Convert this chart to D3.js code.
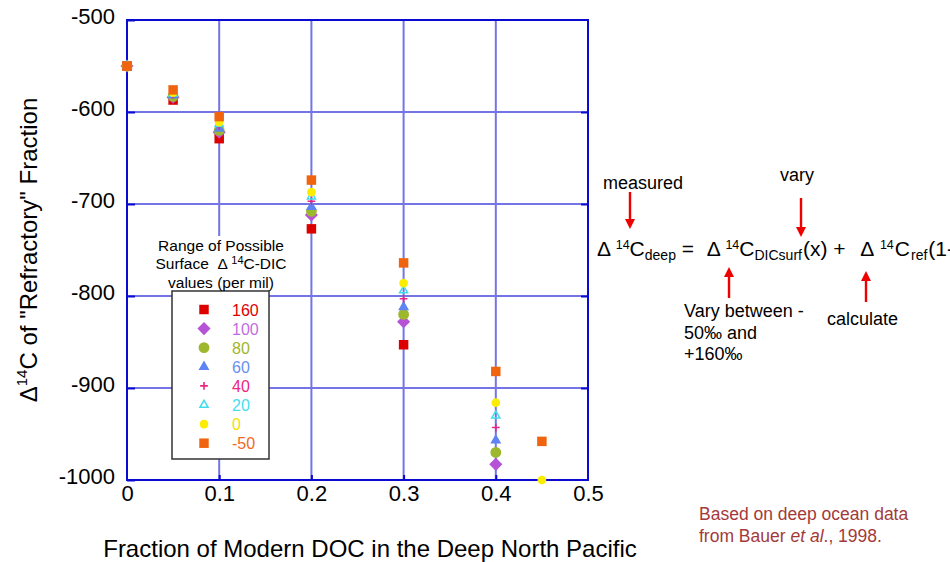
<!DOCTYPE html>
<html><head><meta charset="utf-8">
<script src="https://cdn.jsdelivr.net/npm/d3@7"></script>
<style>
html,body{margin:0;padding:0;background:#fff;}
svg{display:block;font-family:"Liberation Sans",Arial,Helvetica,sans-serif;}
</style></head><body>
<svg id="chart" width="950" height="562"></svg>
<script>
// ---- data ----
const xValues = [0, 0.05, 0.1, 0.2, 0.3, 0.4, 0.45];
const surfaceLabels = ["160", "100", "80", "60", "40", "20", "0", "-50"];
const refr160  = [-550, -587, -629, -727, -853, null, null];
const refr100  = [-550, -584, -622, -712, -828, -983, null];
const refr80   = [-550, -583, -620, -708, -820, -970, null];
const refr60   = [-550, -582, -618, -703, -812, -957, null];
const refr40   = [-550, -581, -615, -697, -803, -943, null];
const refr20   = [-550, -580, -613, -692, -794, -930, null];
const refr0    = [-550, -579, -611, -687, -786, -916, -1000];
const refrM50  = [-550, -576, -605, -674, -764, -882, -958];
const xTicks = [0, 0.1, 0.2, 0.3, 0.4, 0.5];
const yTicks = [-1000, -900, -800, -700, -600, -500];
const xGrid = [0.1, 0.2, 0.3, 0.4];
const yGrid = [-900, -800, -700, -600];

const allSeries = [refr160, refr100, refr80, refr60, refr40, refr20, refr0, refrM50];
const markerColors = ["#dd0000", "#b552d6", "#9db82c", "#5d84f2", "#ec2483", "#3fdcee", "#fbec00", "#f0640f"];
const textColors   = ["#e00000", "#c06ee0", "#9fb52c", "#6a8ff0", "#ec2483", "#48dcee", "#f2e000", "#f06a1e"];
const markerShapes = ["square", "diamond", "circle", "triangle", "plus", "openTriangle", "smallCircle", "square"];

// ---- layout ----
const svg = d3.select("#chart");
const L = 127, R = 588, T = 20, B = 480;
const x = d3.scaleLinear().domain([0, 0.5]).range([L, R]);
const y = d3.scaleLinear().domain([-1000, -500]).range([B, T]);
const axisBlue = "#0a0ad0", gridBlue = "#7474e6";

// gridlines
svg.append("g").selectAll("line.vg").data(xGrid).join("line")
  .attr("x1", d => x(d)).attr("x2", d => x(d)).attr("y1", T).attr("y2", B)
  .attr("stroke", gridBlue).attr("stroke-width", 2);
svg.append("g").selectAll("line.hg").data(yGrid).join("line")
  .attr("x1", L).attr("x2", R).attr("y1", d => y(d)).attr("y2", d => y(d))
  .attr("stroke", gridBlue).attr("stroke-width", 2.2);

// frame
svg.append("rect").attr("x", L).attr("y", T).attr("width", R - L).attr("height", B - T)
  .attr("fill", "none").attr("stroke", axisBlue).attr("stroke-width", 2);

function styleAxis(g, fs) {
  g.select(".domain").remove();
  g.selectAll(".tick line").attr("stroke", axisBlue).attr("stroke-width", 2);
  g.selectAll(".tick text").attr("fill", "#000").style("font-size", fs + "px")
    .style("font-family", '"Liberation Sans",Arial,sans-serif');
}
const gy = svg.append("g").attr("transform", `translate(${L},0)`)
  .call(d3.axisLeft(y).tickValues(yTicks).tickSize(-8).tickPadding(12).tickFormat(d => String(d)));
styleAxis(gy, 22);
gy.selectAll(".tick text").attr("dy", "0.14em");
const gr = svg.append("g").attr("transform", `translate(${R},0)`)
  .call(d3.axisRight(y).tickValues(yGrid).tickSize(-7).tickFormat(""));
styleAxis(gr, 22);
const gx = svg.append("g").attr("transform", `translate(0,${B})`)
  .call(d3.axisBottom(x).tickValues(xTicks).tickSize(-5).tickPadding(5)
    .tickFormat(d => d === 0 ? "0" : d3.format(".1f")(d)));
styleAxis(gx, 22);
gx.selectAll(".tick").filter(d => d === 0 || d === 0.5).select("line").remove();

// axis titles
svg.append("text").attr("x", 370).attr("y", 557).attr("text-anchor", "middle")
  .style("font-size", "24px").text("Fraction of Modern DOC in the Deep North Pacific");
const yt = svg.append("text").attr("transform", "translate(37,250) rotate(-90)")
  .attr("text-anchor", "middle").style("font-size", "24px");
yt.append("tspan").text("\u0394");
yt.append("tspan").attr("dy", -10).style("font-size", "15px").text("14");
yt.append("tspan").attr("dy", 10).text("C of \"Refractory\" Fraction");

// symbol generators
const plusType = { draw(ctx, size) { const r = Math.sqrt(size) / 2;
  ctx.moveTo(-r, 0); ctx.lineTo(r, 0); ctx.moveTo(0, -r); ctx.lineTo(0, r); } };
function drawMarker(sel, shape, color) {
  const sym = d3.symbol();
  let p, rot = 0, fill = color, stroke = "none", sw = 0;
  switch (shape) {
    case "square": p = sym.type(d3.symbolSquare).size(90)(); break;
    case "diamond": p = sym.type(d3.symbolSquare).size(86)(); rot = 45; break;
    case "circle": p = sym.type(d3.symbolCircle).size(92)(); break;
    case "triangle": p = sym.type(d3.symbolTriangle).size(52)(); break;
    case "plus": p = sym.type(plusType).size(60)(); fill = "none"; stroke = color; sw = 1.6; break;
    case "openTriangle": p = sym.type(d3.symbolTriangle).size(28)(); fill = "none"; stroke = color; sw = 1.5; break;
    case "smallCircle": p = sym.type(d3.symbolCircle).size(60)(); break;
  }
  sel.append("path").attr("d", p).attr("fill", fill).attr("stroke", stroke).attr("stroke-width", sw)
    .attr("transform", function () { return d3.select(this.parentNode).attr("data-t") + (rot ? ` rotate(${rot})` : ""); });
}

// legend
const lgX = 172, lgY = 291, lgW = 97, lgH = 168;
svg.append("rect").attr("x", 150).attr("y", 236).attr("width", 142).attr("height", 55).attr("fill", "#fff");
svg.append("rect").attr("x", lgX).attr("y", lgY).attr("width", lgW).attr("height", lgH)
  .attr("fill", "#fff").attr("stroke", "#333").attr("stroke-width", 1.5);
const lt = svg.append("text").attr("text-anchor", "middle").style("font-size", "15.5px");
lt.append("tspan").attr("x", 221).attr("y", 251).text("Range of Possible");
const l2 = lt.append("tspan").attr("x", 221).attr("y", 269);
l2.append("tspan").text("Surface  \u0394 ");
l2.append("tspan").attr("dy", -5).style("font-size", "11px").text("14");
l2.append("tspan").attr("dy", 5).text("C-DIC");
lt.append("tspan").attr("x", 221).attr("y", 288).text("values (per mil)");
lt.style("white-space", "pre");

surfaceLabels.forEach((lab, i) => {
  const cy = 309.5 + i * 19.1;
  const g = svg.append("g").attr("data-t", `translate(204,${cy})`);
  drawMarker(g, markerShapes[i], markerColors[i]);
  svg.append("text").attr("x", 232).attr("y", cy + 6).style("font-size", "16px")
    .attr("fill", textColors[i]).text(lab);
});

// data points
allSeries.forEach((vals, i) => {
  vals.forEach((v, j) => {
    if (v === null) return;
    const g = svg.append("g").attr("data-t", `translate(${x(xValues[j])},${y(v)})`);
    drawMarker(g, markerShapes[i], markerColors[i]);
  });
});

// equation (runs off the right edge, as in the reference)
const eq = svg.append("text").attr("x", 597).attr("y", 255.5).style("font-size", "21px").style("white-space", "pre");
const parts = [
  ["\u0394 ", "main", 0], ["14", "sup", 0], ["C", "main", 0], ["deep", "sub", 0], [" =  ", "main", 0],
  ["\u0394 ", "main", 1], ["14", "sup", 0], ["C", "main", 0], ["DICsurf", "sub", 0], ["(x) +  ", "main", 1],
  ["\u0394 ", "main", 3], ["14", "sup", 1], ["C", "main", 1], ["ref", "sub", 1], ["(1-x)", "main", 1]
];
let cur = 0;
parts.forEach(([t, role, gap]) => {
  const target = role === "sup" ? -7 : role === "sub" ? 4 : 0;
  const fs = role === "sup" ? 12.5 : role === "sub" ? 14 : 21;
  eq.append("tspan").attr("dx", gap).attr("dy", target - cur).style("font-size", fs + "px").text(t);
  cur = target;
});

// annotations
const red = "#ee0000";
function arrow(ax, yTail, yHead) {
  const dir = yHead > yTail ? 1 : -1;
  svg.append("line").attr("x1", ax).attr("x2", ax).attr("y1", yTail).attr("y2", yHead - dir * 8)
    .attr("stroke", red).attr("stroke-width", 2.4);
  svg.append("path").attr("d", `M${ax - 5},${yHead - dir * 10}L${ax + 5},${yHead - dir * 10}L${ax},${yHead}Z`).attr("fill", red);
}
arrow(630, 192, 229);
arrow(801, 198, 237);
arrow(729, 298, 267);
arrow(866, 302, 271);

const ann = (tx, ty, s) => svg.append("text").attr("x", tx).attr("y", ty).style("font-size", "18px").text(s);
ann(603, 189, "measured");
ann(780, 181, "vary");
ann(684, 317, "Vary between -");
ann(684, 338.5, "50\u2030 and");
ann(684, 360, "+160\u2030");
ann(827, 325, "calculate");

const src = svg.append("text").style("font-size", "17.5px").attr("fill", "#a33a3a");
src.append("tspan").attr("x", 699).attr("y", 520).text("Based on deep ocean data");
const s2 = src.append("tspan").attr("x", 699).attr("y", 542);
s2.append("tspan").text("from Bauer ");
s2.append("tspan").style("font-style", "italic").text("et al");
s2.append("tspan").text("., 1998.");
</script>
</body></html>
